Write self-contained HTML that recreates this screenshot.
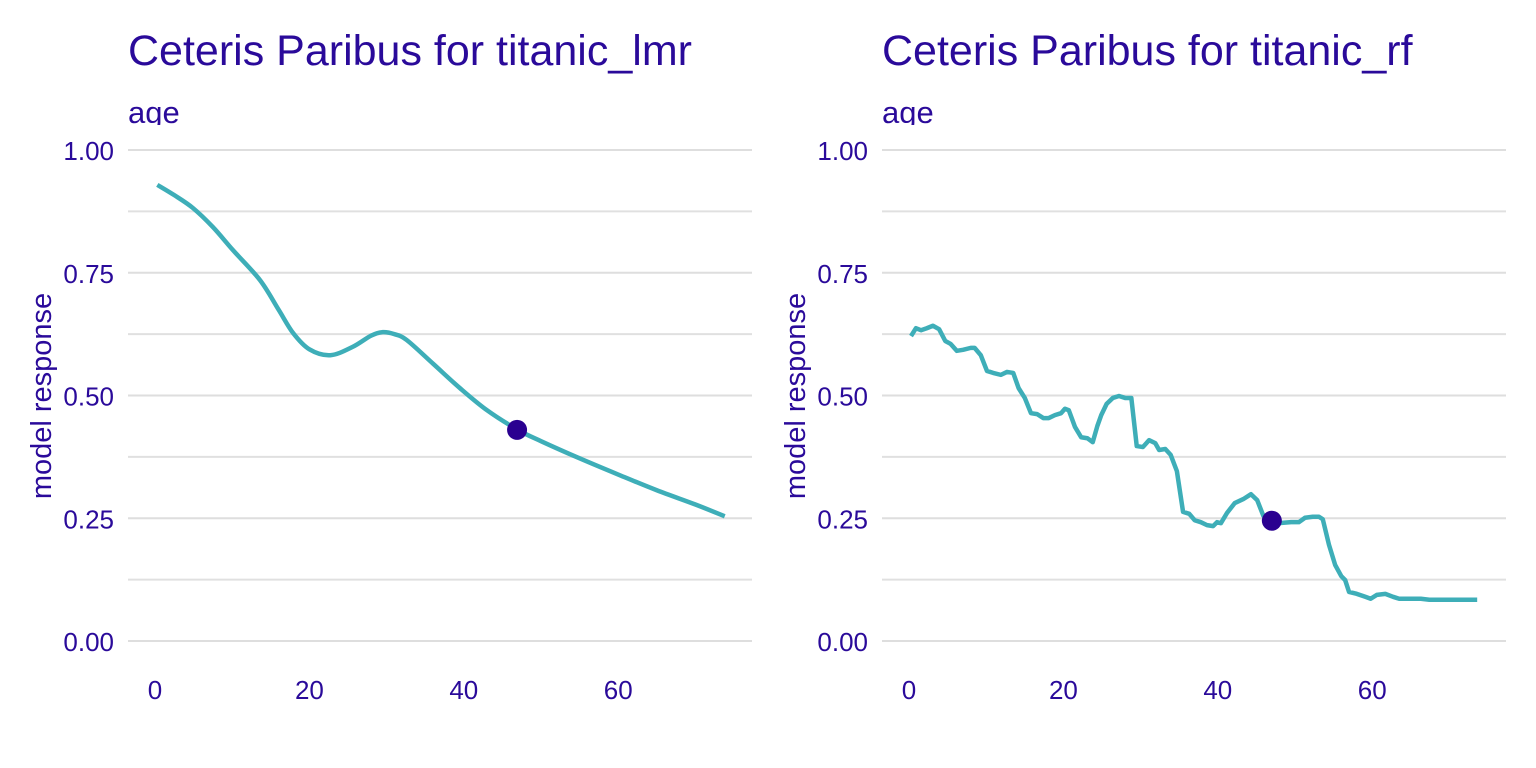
<!DOCTYPE html>
<html><head><meta charset="utf-8"><style>
html,body{margin:0;padding:0;background:#fff;}
svg{display:block;font-family:"Liberation Sans",sans-serif;}
</style></head><body>
<svg id="chart" width="1536" height="768" viewBox="0 0 1536 768"></svg>
<script>
const yTicks=[0,0.25,0.5,0.75,1.0];
const yTickLabels=["0.00","0.25","0.50","0.75","1.00"];
const xTicks=[0,20,40,60];
const xTickLabels=["0","20","40","60"];
const lmrAge=[0.3,2.5,4.9,7.5,10.1,13.6,16,17.9,20,22.7,25.6,28,29.5,31,32.6,36,39.5,43,47,50,55,60,65,70,73.8];
const lmrResp=[0.929,0.908,0.882,0.843,0.796,0.735,0.675,0.627,0.594,0.582,0.599,0.622,0.629,0.625,0.613,0.565,0.515,0.47,0.43,0.407,0.372,0.339,0.307,0.278,0.254];
const lmrObsAge=46.9, lmrObsResp=0.43;
const rfAge=[0.26,0.9,1.55,2.3,3.1,3.9,4.7,5.4,6.2,7.0,8.0,8.5,9.3,10.1,10.9,11.9,12.7,13.5,14.2,15.0,15.8,16.6,17.4,18.1,18.9,19.7,20.2,20.7,21.5,22.3,23.1,23.8,24.4,24.9,25.6,26.4,27.2,28.0,28.8,29.5,30.3,31.1,31.9,32.4,33.2,33.9,34.7,35.5,36.3,37.0,37.8,38.6,39.4,39.9,40.4,41.2,42.2,43.3,44.3,45.1,45.9,46.9,47.9,49.5,50.5,51.3,52.3,53.1,53.6,54.4,55.2,56.0,56.5,57.0,58.0,59.1,59.8,60.6,61.7,62.7,63.5,66.3,67.4,73.6];
const rfResp=[0.621,0.637,0.633,0.637,0.642,0.635,0.611,0.605,0.591,0.593,0.597,0.597,0.582,0.550,0.546,0.542,0.548,0.546,0.515,0.495,0.464,0.462,0.454,0.454,0.460,0.464,0.473,0.470,0.436,0.415,0.413,0.405,0.438,0.460,0.483,0.495,0.499,0.495,0.495,0.397,0.395,0.409,0.403,0.389,0.391,0.379,0.346,0.263,0.259,0.246,0.242,0.236,0.234,0.242,0.240,0.261,0.281,0.289,0.299,0.287,0.255,0.244,0.240,0.242,0.242,0.251,0.253,0.253,0.248,0.196,0.155,0.132,0.124,0.100,0.096,0.090,0.086,0.094,0.096,0.090,0.086,0.086,0.084,0.084];
const rfObsAge=47, rfObsResp=0.245;

const NS="http://www.w3.org/2000/svg";
const svg=document.getElementById('chart');
const C="#2a0a9a", LINE="#3eaeb8";
function mk(tag,attrs,parent){const e=document.createElementNS(NS,tag);for(const k in attrs)e.setAttribute(k,attrs[k]);(parent||svg).appendChild(e);return e;}
function catmull(pts){let d="M"+pts[0][0]+","+pts[0][1];for(let i=0;i<pts.length-1;i++){const p0=pts[Math.max(0,i-1)],p1=pts[i],p2=pts[i+1],p3=pts[Math.min(pts.length-1,i+2)];
d+=" C"+(p1[0]+(p2[0]-p0[0])/6)+","+(p1[1]+(p2[1]-p0[1])/6)+" "+(p2[0]-(p3[0]-p1[0])/6)+","+(p2[1]-(p3[1]-p1[1])/6)+" "+p2[0]+","+p2[1];}return d;}
const defs=mk('defs',{});
const cp=mk('clipPath',{id:'subclip'},defs);
mk('rect',{x:0,y:0,width:1536,height:125},cp);

function panel(ox,title,name,ages,resp,obsA,obsR,smooth){
  const g=mk('g',{});
  
  
  const x=a=>ox+155-128+a*7.72;
  const y=v=>641-v*491;
  const L=ox, R=ox+624;
  for(let v=0.125;v<1;v+=0.25){const l=mk('line',{x1:L,x2:R,y1:y(v),y2:y(v),stroke:"#e0e0e0","stroke-width":2},g);
    }
  yTicks.forEach((v,i)=>{const l=mk('line',{x1:L,x2:R,y1:y(v),y2:y(v),stroke:"#dedede","stroke-width":2},g);
    
    const t=mk('text',{x:ox-14,y:y(v)+10,"text-anchor":"end","font-size":26,fill:C},g);t.textContent=yTickLabels[i];
    });
  xTicks.forEach((v,i)=>{const t=mk('text',{x:x(v),y:699,"text-anchor":"middle","font-size":26,fill:C},g);t.textContent=xTickLabels[i];
    });
  const tt=mk('text',{x:ox,y:65,"font-size":43,fill:C},g);tt.textContent=title;
  
  const st=mk('text',{x:ox,y:123,"font-size":31,fill:C,"clip-path":"url(#subclip)"},g);st.textContent="age";
  
  const yl=mk('text',{x:0,y:0,"font-size":29,fill:C,"text-anchor":"middle",transform:`translate(${ox-77},396) rotate(-90)`},g);yl.textContent="model response";
  
  const pts=ages.map((a,i)=>[x(a),y(resp[i])]);
  const d=smooth?catmull(pts):"M"+pts.map(p=>p[0]+","+p[1]).join(" L");
  const p=mk('path',{d:d,fill:"none",stroke:LINE,"stroke-width":4.5,"stroke-linejoin":"round"},g);
  
  const c=mk('circle',{cx:x(obsA),cy:y(obsR),r:10,fill:"#2a0090"},g);
  
}
panel(128,"Ceteris Paribus for titanic_lmr","lmr",lmrAge,lmrResp,lmrObsAge,lmrObsResp,true);
panel(882,"Ceteris Paribus for titanic_rf","rf",rfAge,rfResp,rfObsAge,rfObsResp,false);
</script>
</body></html>
